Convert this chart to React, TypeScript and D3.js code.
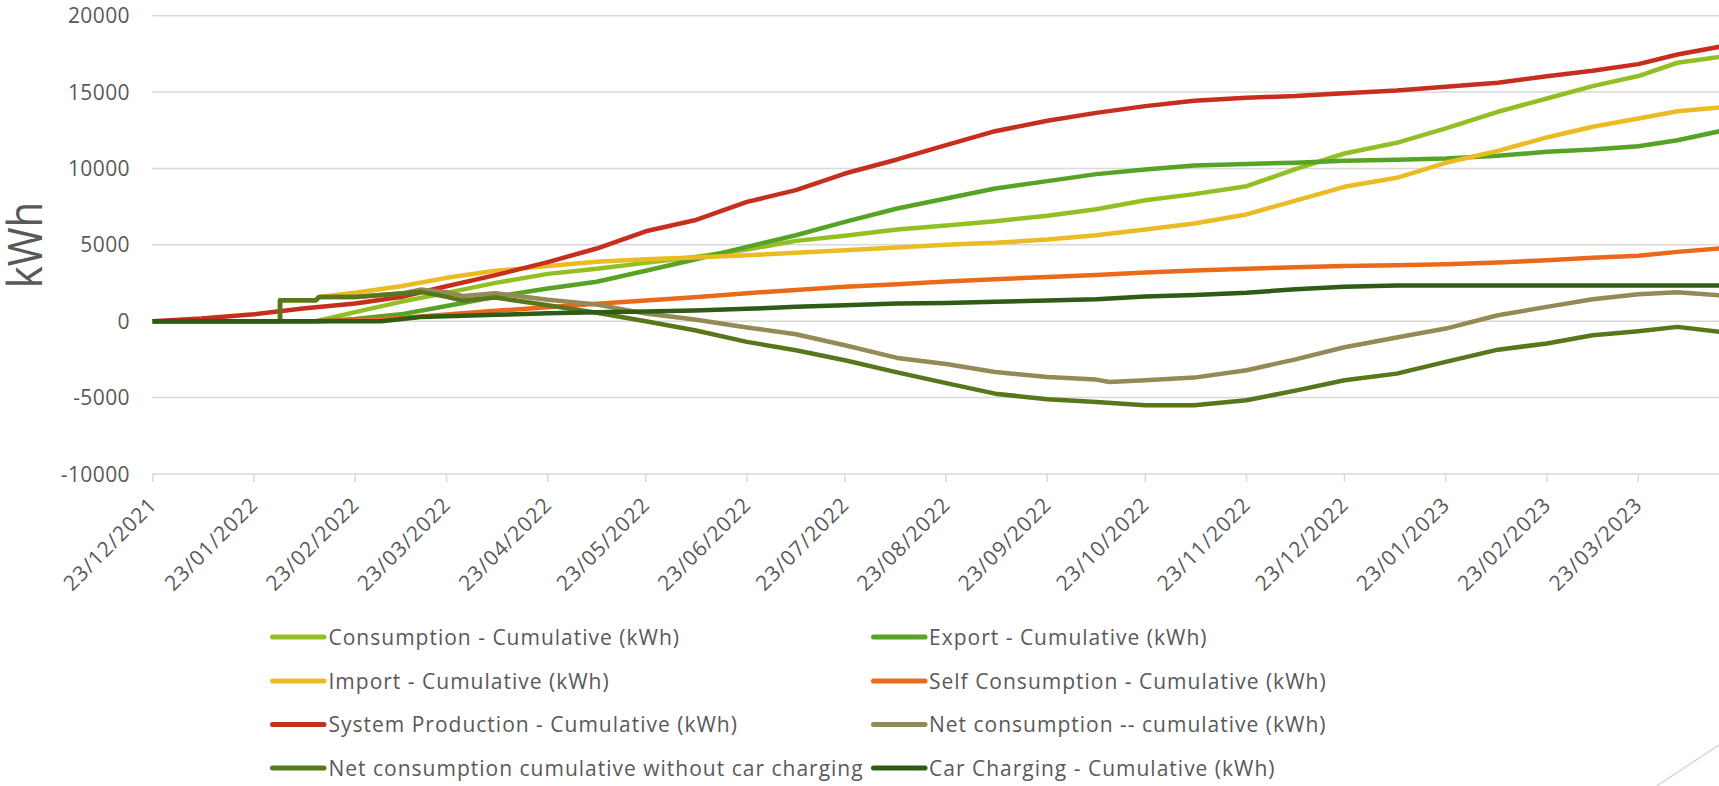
import React from 'react';
import * as d3 from 'd3';

type Pt = [string, number];

const seriesNames = [
  'Consumption - Cumulative (kWh)',
  'Export - Cumulative (kWh)',
  'Import - Cumulative (kWh)',
  'Self Consumption - Cumulative (kWh)',
  'System Production - Cumulative (kWh)',
  'Net consumption -- cumulative (kWh)',
  'Net consumption cumulative without car charging',
  'Car Charging - Cumulative (kWh)',
];

const seriesColors = ['#92c022', '#56a326', '#eabb22', '#ea6a1a', '#c62f1e', '#958956', '#58761a', '#2e5b16'];

const consumption: Pt[] = [
  ['2021-12-23', 0], ['2022-02-11', 0], ['2022-02-23', 600], ['2022-03-09', 1270], ['2022-03-23', 1855],
  ['2022-04-07', 2510], ['2022-04-23', 3100], ['2022-05-08', 3430], ['2022-05-23', 3820], ['2022-06-07', 4210],
  ['2022-06-23', 4690], ['2022-07-08', 5260], ['2022-07-23', 5590], ['2022-08-08', 6000], ['2022-08-23', 6270],
  ['2022-09-07', 6550], ['2022-09-23', 6900], ['2022-10-08', 7330], ['2022-10-23', 7920], ['2022-11-07', 8320],
  ['2022-11-23', 8840], ['2022-12-08', 9950], ['2022-12-23', 10980], ['2023-01-08', 11680], ['2023-01-23', 12620],
  ['2023-02-08', 13710], ['2023-02-23', 14580], ['2023-03-09', 15390], ['2023-03-23', 16050], ['2023-04-04', 16920],
  ['2023-04-17', 17310],
];

const exportCum: Pt[] = [
  ['2021-12-23', 0], ['2022-02-11', 0], ['2022-02-23', 150], ['2022-03-09', 450], ['2022-03-23', 1000],
  ['2022-04-07', 1600], ['2022-04-23', 2140], ['2022-05-08', 2580], ['2022-05-23', 3300], ['2022-06-07', 4040],
  ['2022-06-23', 4870], ['2022-07-08', 5630], ['2022-07-23', 6500], ['2022-08-08', 7380], ['2022-08-23', 8030],
  ['2022-09-07', 8690], ['2022-09-23', 9170], ['2022-10-08', 9630], ['2022-10-23', 9930], ['2022-11-07', 10190],
  ['2022-11-23', 10300], ['2022-12-08', 10370], ['2022-12-23', 10500], ['2023-01-08', 10570], ['2023-01-23', 10650],
  ['2023-02-08', 10830], ['2023-02-23', 11090], ['2023-03-09', 11240], ['2023-03-23', 11460], ['2023-04-04', 11850],
  ['2023-04-17', 12440],
];

const importCum: Pt[] = [
  ['2021-12-23', 0], ['2022-01-31', 0], ['2022-01-31', 1375], ['2022-02-11', 1375], ['2022-02-12', 1590],
  ['2022-02-23', 1860], ['2022-03-09', 2290], ['2022-03-23', 2840], ['2022-04-07', 3300], ['2022-04-23', 3620],
  ['2022-05-08', 3890], ['2022-05-23', 4060], ['2022-06-07', 4170], ['2022-06-23', 4320], ['2022-07-08', 4480],
  ['2022-07-23', 4650], ['2022-08-08', 4820], ['2022-08-23', 5000], ['2022-09-07', 5130], ['2022-09-23', 5350],
  ['2022-10-08', 5630], ['2022-10-23', 6000], ['2022-11-07', 6400], ['2022-11-23', 6990], ['2022-12-08', 7900],
  ['2022-12-23', 8800], ['2023-01-08', 9390], ['2023-01-23', 10370], ['2023-02-08', 11150], ['2023-02-23', 12030],
  ['2023-03-09', 12730], ['2023-03-23', 13270], ['2023-04-04', 13750], ['2023-04-17', 13990],
];

const selfConsumption: Pt[] = [
  ['2021-12-23', 0], ['2022-02-11', 0], ['2022-02-23', 65], ['2022-03-09', 220], ['2022-03-23', 440],
  ['2022-04-07', 680], ['2022-04-23', 920], ['2022-05-08', 1140], ['2022-05-23', 1350], ['2022-06-07', 1570],
  ['2022-06-23', 1830], ['2022-07-08', 2050], ['2022-07-23', 2250], ['2022-08-08', 2420], ['2022-08-23', 2600],
  ['2022-09-07', 2750], ['2022-09-23', 2900], ['2022-10-08', 3030], ['2022-10-23', 3190], ['2022-11-07', 3320],
  ['2022-11-23', 3430], ['2022-12-08', 3540], ['2022-12-23', 3620], ['2023-01-08', 3670], ['2023-01-23', 3730],
  ['2023-02-08', 3840], ['2023-02-23', 3990], ['2023-03-09', 4150], ['2023-03-23', 4280], ['2023-04-04', 4540],
  ['2023-04-17', 4760],
];

const systemProduction: Pt[] = [
  ['2021-12-23', 0], ['2022-01-07', 175], ['2022-01-23', 460], ['2022-02-07', 830], ['2022-02-23', 1160],
  ['2022-03-09', 1590], ['2022-03-23', 2290], ['2022-04-07', 3020], ['2022-04-23', 3870], ['2022-05-08', 4760],
  ['2022-05-23', 5890], ['2022-06-07', 6610], ['2022-06-23', 7810], ['2022-07-08', 8580], ['2022-07-23', 9670],
  ['2022-08-08', 10590], ['2022-08-23', 11530], ['2022-09-07', 12440], ['2022-09-23', 13120], ['2022-10-08', 13640],
  ['2022-10-23', 14080], ['2022-11-07', 14430], ['2022-11-23', 14630], ['2022-12-08', 14740], ['2022-12-23', 14930],
  ['2023-01-08', 15110], ['2023-01-23', 15350], ['2023-02-08', 15610], ['2023-02-23', 16040], ['2023-03-09', 16390],
  ['2023-03-23', 16830], ['2023-04-04', 17460], ['2023-04-17', 17970],
];

const netConsumption: Pt[] = [
  ['2021-12-23', 0], ['2022-01-31', 0], ['2022-01-31', 1375], ['2022-02-11', 1375], ['2022-02-12', 1590],
  ['2022-02-23', 1590], ['2022-03-09', 1810], ['2022-03-15', 2070], ['2022-03-23', 1900], ['2022-03-28', 1650],
  ['2022-04-07', 1830], ['2022-04-23', 1400], ['2022-05-08', 1100], ['2022-05-23', 500], ['2022-06-07', 110],
  ['2022-06-23', -410], ['2022-07-08', -850], ['2022-07-23', -1570], ['2022-08-08', -2400], ['2022-08-23', -2800],
  ['2022-09-07', -3320], ['2022-09-23', -3650], ['2022-10-08', -3820], ['2022-10-12', -3980], ['2022-10-23', -3860],
  ['2022-11-07', -3690], ['2022-11-23', -3210], ['2022-12-08', -2500], ['2022-12-23', -1700], ['2023-01-08', -1070],
  ['2023-01-23', -480], ['2023-02-08', 390], ['2023-02-23', 940], ['2023-03-09', 1440], ['2023-03-23', 1770],
  ['2023-04-04', 1900], ['2023-04-17', 1700],
];

const netWithoutCar: Pt[] = [
  ['2021-12-23', 0], ['2022-01-31', 0], ['2022-01-31', 1375], ['2022-02-11', 1375], ['2022-02-12', 1590],
  ['2022-02-23', 1590], ['2022-03-09', 1810], ['2022-03-15', 1920], ['2022-03-23', 1600], ['2022-03-28', 1350],
  ['2022-04-07', 1550], ['2022-04-23', 1050], ['2022-05-08', 560], ['2022-05-23', 0], ['2022-06-07', -590],
  ['2022-06-23', -1350], ['2022-07-08', -1900], ['2022-07-23', -2550], ['2022-08-08', -3350], ['2022-08-23', -4050],
  ['2022-09-07', -4740], ['2022-09-23', -5110], ['2022-10-08', -5280], ['2022-10-23', -5500], ['2022-11-07', -5500],
  ['2022-11-23', -5170], ['2022-12-08', -4540], ['2022-12-23', -3860], ['2023-01-08', -3430], ['2023-01-23', -2660],
  ['2023-02-08', -1860], ['2023-02-23', -1460], ['2023-03-09', -920], ['2023-03-23', -650], ['2023-04-04', -370],
  ['2023-04-17', -700],
];

const carCharging: Pt[] = [
  ['2021-12-23', 0], ['2022-03-03', 0], ['2022-03-15', 280], ['2022-03-23', 320], ['2022-04-07', 420],
  ['2022-04-23', 520], ['2022-05-08', 580], ['2022-05-23', 640], ['2022-06-07', 710], ['2022-06-23', 810],
  ['2022-07-08', 940], ['2022-07-23', 1050], ['2022-08-08', 1160], ['2022-08-23', 1200], ['2022-09-07', 1270],
  ['2022-09-23', 1350], ['2022-10-08', 1440], ['2022-10-23', 1620], ['2022-11-07', 1720], ['2022-11-23', 1860],
  ['2022-12-08', 2100], ['2022-12-23', 2250], ['2023-01-08', 2340], ['2023-04-17', 2340],
];

const seriesData: Pt[][] = [
  consumption, exportCum, importCum, selfConsumption, systemProduction, netConsumption, netWithoutCar, carCharging,
];

const xTickLabels = [
  '23/12/2021', '23/01/2022', '23/02/2022', '23/03/2022', '23/04/2022', '23/05/2022', '23/06/2022', '23/07/2022',
  '23/08/2022', '23/09/2022', '23/10/2022', '23/11/2022', '23/12/2022', '23/01/2023', '23/02/2023', '23/03/2023',
];

const yTickValues = [-10000, -5000, 0, 5000, 10000, 15000, 20000];

const parseIso = d3.timeParse('%Y-%m-%d');
const parseLabel = d3.timeParse('%d/%m/%Y');

export default function App() {
  const W = 1719;
  const H = 786;
  const font = '"Open Sans", "DejaVu Sans", sans-serif';
  const textColor = '#595959';
  const gridColor = '#d9d9d9';

  const x = d3
    .scaleTime()
    .domain([parseLabel('23/12/2021') as Date, parseLabel('23/03/2023') as Date])
    .range([152.7, 1638.3]);
  const y = d3.scaleLinear().domain([-10000, 20000]).range([474, 15.7]);

  const line = d3
    .line<Pt>()
    .x((d) => x(parseIso(d[0]) as Date))
    .y((d) => y(d[1]));

  const legendRowsY = [637, 681, 724.5, 768];
  const legendCols = [
    { lx1: 272.5, lx2: 324, tx: 328.5 },
    { lx1: 873.5, lx2: 925, tx: 929 },
  ];

  return (
    <svg
      width={W}
      height={H}
      style={{ position: 'absolute', left: 0, top: 0, background: '#fff' }}
      fontFamily={font}
    >
      <rect x={0} y={0} width={W} height={H} fill="#fff" />
      <defs>
        <clipPath id="plotclip">
          <rect x={150} y={0} width={W - 150} height={480} />
        </clipPath>
      </defs>

      {yTickValues.map((v) => (
        <line key={v} x1={152.3} x2={W} y1={y(v)} y2={y(v)} stroke={gridColor} strokeWidth={1.5} />
      ))}

      {xTickLabels.map((t) => {
        const px = x(parseLabel(t) as Date);
        return <line key={t} x1={px} x2={px} y1={y(-10000)} y2={y(-10000) + 8} stroke={gridColor} strokeWidth={1.5} />;
      })}

      {yTickValues.map((v) => (
        <text key={v} x={130} y={y(v) + 7.6} textAnchor="end" fontSize={21} letterSpacing={0.4} fill={textColor}>
          {String(v)}
        </text>
      ))}

      {xTickLabels.map((t) => {
        const px = x(parseLabel(t) as Date);
        return (
          <text
            key={t}
            transform={`translate(${px + 5.5},${506}) rotate(-45)`}
            textAnchor="end"
            fontSize={21}
            letterSpacing={1}
            fill={textColor}
          >
            {t}
          </text>
        );
      })}

      <text
        transform="translate(42,245) scale(1.14,1) rotate(-90)"
        textAnchor="middle"
        fontSize={42}
        fill={textColor}
      >
        kWh
      </text>

      <g clipPath="url(#plotclip)">
        {seriesData.map((data, i) => (
          <path
            key={seriesNames[i]}
            d={line(data) || ''}
            fill="none"
            stroke={seriesColors[i]}
            strokeWidth={4.5}
            strokeLinejoin="round"
            strokeLinecap="butt"
          />
        ))}
      </g>

      {seriesNames.map((name, i) => {
        const row = Math.floor(i / 2);
        const col = legendCols[i % 2];
        const ly = legendRowsY[row];
        return (
          <g key={name}>
            <line x1={col.lx1} x2={col.lx2} y1={ly} y2={ly} stroke={seriesColors[i]} strokeWidth={5} strokeLinecap="round" />
            <text x={col.tx} y={ly + 7.5} fontSize={21} letterSpacing={1} fill={textColor}>
              {name}
            </text>
          </g>
        );
      })}

      <line x1={1656.7} y1={786} x2={1719} y2={745} stroke={gridColor} strokeWidth={1.5} />
    </svg>
  );
}
